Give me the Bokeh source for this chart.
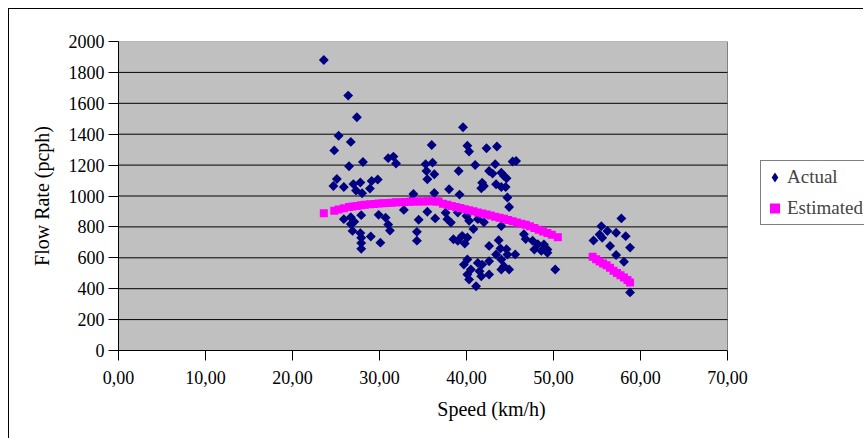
import numpy as np
from bokeh.plotting import figure
from bokeh.models import FixedTicker, Legend, LegendItem, Range1d
from bokeh.embed import file_html
from bokeh.resources import INLINE

# ---------------- data ----------------
actual_speed = [23.6, 26.4, 27.4, 25.3, 26.7, 24.8, 36.0, 28.1, 31.0, 31.6, 31.9, 26.5, 25.1, 24.7,
                25.9, 27.0, 27.8, 29.1, 29.8, 27.3, 28.0, 28.9, 33.9, 32.8, 34.5, 33.6, 25.9, 26.7,
                27.1, 27.9, 26.9, 29.9, 30.7, 31.0, 31.2, 27.8, 27.9, 29.0, 27.9, 27.9, 30.1, 34.3,
                34.3, 26.7, 39.6, 40.1, 40.3, 42.3, 43.5, 35.3, 36.1, 35.4, 36.3, 35.5, 39.1, 41.0,
                43.3, 45.3, 45.7, 42.6, 43.0, 44.0, 44.3, 44.6, 41.8, 42.0, 41.7, 43.4, 44.0, 44.5,
                38.0, 36.3, 39.2, 44.7, 44.9, 35.5, 36.4, 37.6, 37.8, 38.2, 39.0, 40.0, 40.3, 40.8,
                41.3, 42.0, 44.0, 38.5, 39.0, 39.5, 40.1, 39.8, 42.6, 43.7, 43.9, 44.6, 45.6, 46.6,
                46.8, 47.6, 48.2, 48.9, 49.3, 49.3, 48.6, 47.8, 50.2, 44.7, 40.1, 39.7, 41.3, 41.8,
                42.6, 43.4, 44.0, 44.3, 44.9, 44.0, 40.1, 40.3, 41.1, 41.7, 42.6, 40.5, 41.5, 57.8,
                55.5, 56.2, 57.2, 58.3, 54.6, 55.3, 55.6, 56.5, 58.8, 57.2, 58.1, 58.8]
actual_flow = [1880, 1650, 1510, 1390, 1350, 1295, 1330, 1220, 1245, 1255, 1210, 1193, 1110, 1065,
               1058, 1077, 1087, 1097, 1107, 1036, 1018, 1048, 1013, 910, 846, 968, 850, 862,
               833, 876, 774, 878, 860, 815, 776, 760, 730, 738, 695, 658, 698, 768,
               711, 818, 1445, 1325, 1288, 1309, 1320, 1206, 1216, 1162, 1141, 1108, 1162, 1201,
               1206, 1223, 1227, 1162, 1145, 1151, 1130, 1115, 1086, 1065, 1050, 1076, 1058, 1058,
               1044, 1019, 1009, 990, 929, 898, 855, 892, 850, 828, 893, 871, 840, 786,
               850, 830, 806, 720, 710, 742, 731, 692, 677, 714, 660, 656, 622, 752,
               721, 710, 688, 686, 654, 632, 645, 654, 524, 621, 589, 556, 567, 556,
               578, 621, 589, 545, 524, 524, 492, 459, 416, 481, 492, 524, 513, 855,
               805, 773, 762, 740, 712, 751, 729, 676, 666, 618, 574, 376]

est_speed = [23.6, 24.8, 25.3, 25.9, 26.5, 26.9, 27.4, 27.9, 28.3, 28.9, 29.4, 29.9, 30.4, 30.9,
             31.4, 31.9, 32.4, 32.9, 33.5, 34.0, 34.5, 35.0, 35.5, 36.0, 36.5, 36.8,
             37.3, 37.8, 38.3, 38.8, 39.3, 39.8, 40.3, 40.8, 41.3, 41.8, 42.3, 42.8, 43.3, 43.8,
             44.3, 44.8, 45.3, 45.8, 46.3, 46.8, 47.3, 47.8, 48.3, 48.8, 49.3, 49.8, 50.5,
             54.5, 54.9, 55.3, 55.7, 56.1, 56.5, 56.9, 57.3, 57.7, 58.1, 58.5, 58.8]
est_flow = [889, 905, 912, 920, 928, 932, 936, 940, 943, 946, 949, 951, 953, 955,
            957, 959, 960, 961, 963, 964, 965, 965, 966, 966, 965, 964,
            950, 943, 936, 929, 922, 915, 908, 901, 894, 887, 880, 873, 866, 859,
            852, 844, 836, 828, 821, 814, 804, 793, 782, 771, 760, 749, 733,
            606, 590, 576, 563, 551, 536, 516, 502, 487, 472, 456, 440]

x_min, x_max = 0, 70
y_min, y_max = 0, 2000
x_ticks = [0, 10, 20, 30, 40, 50, 60, 70]
x_tick_labels = ["0,00", "10,00", "20,00", "30,00", "40,00", "50,00", "60,00", "70,00"]
y_ticks = [0, 200, 400, 600, 800, 1000, 1200, 1400, 1600, 1800, 2000]

FONT = "Liberation Serif"

# layout (pixels)
W, H = 855, 430
BORDER_L, BORDER_T, BORDER_B = 109, 32, 89
AREA_W = 609                      # width of the grey plotting area
FRAME_W = W - BORDER_L            # frame reaches the right edge so the legend is not clipped
x_end = x_max * FRAME_W / AREA_W

p = figure(width=W, height=H, output_backend="svg", toolbar_location=None,
           x_range=Range1d(x_min, x_end), y_range=Range1d(y_min, y_max),
           min_border_left=BORDER_L, min_border_right=0,
           min_border_top=BORDER_T, min_border_bottom=BORDER_B)
# outer chart border: left and top edges
p.styles = {"margin-left": "9px", "margin-top": "9px",
            "box-shadow": "-1px -1px 0px 0px black"}

p.background_fill_color = None
p.border_fill_color = None
p.outline_line_color = None

# grey plotting area
p.quad(left=[x_min], right=[x_max], bottom=[y_min], top=[y_max],
       fill_color="#C0C0C0", line_color="#808080", line_width=1)
# horizontal gridlines
p.segment(x0=[x_min] * (len(y_ticks) - 2), x1=[x_max] * (len(y_ticks) - 2),
          y0=y_ticks[1:-1], y1=y_ticks[1:-1], line_color="black", line_width=1)

# axes
p.xaxis.ticker = FixedTicker(ticks=x_ticks)
p.xaxis.major_label_overrides = {t: lab for t, lab in zip(x_ticks, x_tick_labels)}
p.xaxis.bounds = (x_min, x_max)
p.yaxis.ticker = FixedTicker(ticks=y_ticks)
for ax in (p.xaxis[0], p.yaxis[0]):
    ax.axis_line_color = "black"
    ax.major_tick_line_color = "black"
    ax.minor_tick_line_color = None
    ax.major_tick_in = 0
    ax.major_tick_out = 10
    ax.major_label_text_font = FONT
    ax.major_label_text_font_size = "18px"
    ax.major_label_text_color = "black"
    ax.axis_label_text_font = FONT
    ax.axis_label_text_font_size = "20px"
    ax.axis_label_text_font_style = "normal"
    ax.axis_label_text_color = "black"
p.xaxis.axis_label = "Speed (km/h)"
p.yaxis.axis_label = "Flow Rate (pcph)"
p.xaxis.major_label_standoff = 10
p.yaxis.major_label_standoff = 4
p.xaxis.axis_label_standoff = 11
p.yaxis.axis_label_standoff = 13
p.xgrid.visible = False
p.ygrid.visible = False

# data
r_act = p.scatter(actual_speed, actual_flow, marker="square", size=7, angle=np.pi / 4,
                  fill_color="#000080", line_color=None)
r_est = p.scatter(est_speed, est_flow, marker="square", size=8,
                  fill_color="#FF00FF", line_color=None)
# legend swatch for the diamonds (legend glyphs are never rotated); no visible point
r_act_key = p.scatter(x=[np.nan], y=[np.nan], marker="diamond",
                      fill_color="#000080", line_color=None)

legend = Legend(items=[LegendItem(label="Actual", renderers=[r_act_key]),
                       LegendItem(label="Estimated", renderers=[r_est])],
                location=(642, 125), margin=0, padding=1, spacing=1,
                glyph_width=25, glyph_height=30, label_height=30, label_standoff=0,
                label_text_font=FONT, label_text_font_size="19px",
                border_line_color="black", border_line_width=1,
                background_fill_color="white", background_fill_alpha=1)
p.add_layout(legend, "center")

open("out.html", "w").write(file_html(p, INLINE))
